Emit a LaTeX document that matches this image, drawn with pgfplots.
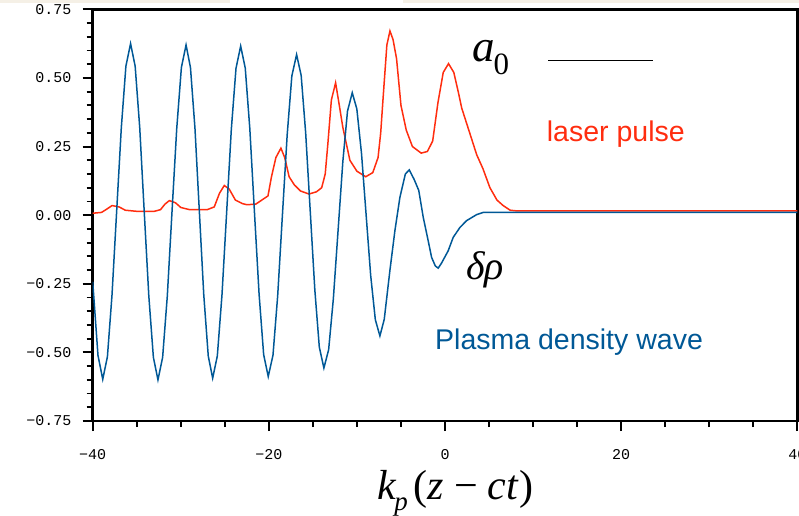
\documentclass[border=0pt]{standalone}
\usepackage{fontspec}
\setmainfont{Liberation Serif}
\newfontfamily\sansf{Liberation Sans}
\newfontfamily\monof{Liberation Mono}
\usepackage{pgfplots}
\pgfplotsset{compat=1.18}
\definecolor{laserred}{RGB}{255,45,15}
\definecolor{plasmablue}{RGB}{0,88,150}
\definecolor{beige}{RGB}{245,240,230}
\begin{document}
\begin{tikzpicture}[x=1pt,y=1pt]
\path[use as bounding box] (0,0) rectangle (799,515);
\fill[beige] (0,511.5) rectangle (230,515);
\fill[beige] (403,511.5) rectangle (799,515);
\begin{axis}[
  at={(92.7pt,94pt)}, anchor=south west,
  scale only axis, width=704.6pt, height=411.7pt,
  xmin=-40, xmax=40, ymin=-0.75, ymax=0.75,
  xtick={-40,-20,0,20,40},
  xticklabels={−40,−20,0,20,40},
  ytick={-0.75,-0.5,-0.25,0,0.25,0.5,0.75},
  yticklabels={−0.75,−0.50,−0.25,0.00,0.25,0.50,0.75},
  minor x tick num=3, minor y tick num=4,
  tick pos=left, tick align=outside,
  major tick length=10pt, minor tick length=6pt,
  axis line style={black, line width=2.5pt},
  major tick style={black, line width=2pt},
  minor tick style={black, line width=1.8pt},
  yticklabel style={font=\monof\fontsize{15}{15}\selectfont, inner sep=0pt, anchor=east, xshift=-11pt},
  xticklabel style={font=\monof\fontsize{15}{15}\selectfont, inner sep=0pt, anchor=north, yshift=-18pt},
]
\addplot[laserred, line width=1.5pt] coordinates {
(-40,0.007)(-39,0.010)(-38.5,0.020)(-37.8,0.035)(-37,0.030)(-36.3,0.018)(-35,0.014)(-33,0.014)(-32.3,0.020)(-31.8,0.040)(-31.3,0.053)(-30.6,0.045)(-30,0.028)(-29,0.020)(-27,0.020)(-26.2,0.030)(-25.6,0.080)(-25.06,0.108)(-24.5,0.095)(-23.8,0.055)(-23,0.042)(-22.5,0.038)(-21.5,0.040)(-20.8,0.055)(-20.1,0.070)(-19.7,0.140)(-19.2,0.210)(-18.63,0.244)(-18.2,0.210)(-17.7,0.140)(-17.1,0.110)(-16.4,0.088)(-15.45,0.077)(-14.6,0.085)(-14.0,0.100)(-13.6,0.150)(-13.3,0.260)(-12.9,0.420)(-12.42,0.482)(-12.0,0.400)(-11.6,0.320)(-11.2,0.260)(-10.8,0.200)(-10.0,0.160)(-9.0,0.140)(-8.2,0.155)(-7.6,0.210)(-7.3,0.300)(-7.0,0.440)(-6.6,0.620)(-6.25,0.671)(-5.9,0.640)(-5.5,0.570)(-5.0,0.400)(-4.4,0.310)(-3.7,0.250)(-2.7,0.226)(-2.0,0.232)(-1.4,0.270)(-0.8,0.410)(-0.2,0.520)(0.4,0.552)(1.0,0.520)(1.5,0.450)(1.9,0.390)(2.8,0.300)(3.6,0.220)(4.3,0.170)(5.1,0.100)(5.9,0.055)(6.6,0.035)(7.4,0.018)(8,0.016)(40,0.016)
};
\addplot[plasmablue, line width=1.5pt] coordinates {
(-40,-0.242)(-39.4,-0.511)(-38.86,-0.598)(-38.33,-0.516)(-37.81,-0.292)(-37.28,0.014)(-36.75,0.319)(-36.23,0.543)(-35.7,0.625)(-35.18,0.543)(-34.66,0.319)(-34.15,0.013)(-33.63,-0.294)(-33.11,-0.518)(-32.59,-0.600)(-32.06,-0.518)(-31.53,-0.295)(-31.0,0.010)(-30.46,0.315)(-29.93,0.538)(-29.4,0.620)(-28.9,0.538)(-28.39,0.317)(-27.89,0.013)(-27.39,-0.290)(-26.88,-0.513)(-26.38,-0.594)(-25.85,-0.513)(-25.32,-0.290)(-24.79,0.011)(-24.26,0.313)(-23.73,0.535)(-23.2,0.616)(-22.68,0.536)(-22.16,0.315)(-21.64,0.014)(-21.11,-0.287)(-20.59,-0.508)(-20.07,-0.588)(-19.53,-0.510)(-19.0,-0.295)(-18.46,0.000)(-17.92,0.292)(-17.39,0.507)(-16.85,0.585)(-16.33,0.509)(-15.82,0.300)(-15.3,0.014)(-14.78,-0.272)(-14.27,-0.481)(-13.75,-0.557)(-13.21,-0.490)(-12.68,-0.306)(-12.14,-0.056)(-11.6,0.195)(-11.07,0.379)(-10.53,0.446)(-10.01,0.387)(-9.48,0.225)(-8.96,0.003)(-8.44,-0.219)(-7.91,-0.381)(-7.39,-0.440)(-6.9,-0.380)(-6.25,-0.200)(-5.69,-0.057)(-5.12,0.065)(-4.5,0.150)(-4.06,0.165)(-3.5,0.130)(-2.98,0.090)(-2.47,-0.008)(-1.91,-0.093)(-1.52,-0.154)(-1.1,-0.185)(-0.77,-0.193)(-0.4,-0.175)(0.36,-0.130)(0.93,-0.081)(1.69,-0.045)(2.45,-0.020)(3.59,0.002)(4.34,0.010)(40,0.010)
};
\end{axis}
% annotations (image px -> tikz: y = 515 - py)
\node[anchor=base west, inner sep=0pt, text=laserred, font=\sansf\fontsize{28.5}{30}\selectfont] at (546.7,373.3) {laser pulse};
\node[anchor=base west, inner sep=0pt, text=plasmablue, font=\sansf\fontsize{28.5}{30}\selectfont] at (435,165.7) {Plasma density wave};
\node[anchor=base west, inner sep=0pt, font=\fontsize{45}{45}\selectfont] at (472,453.3) {\textit{a}\hspace{-1pt}\raisebox{-13pt}{\fontsize{31}{31}\selectfont 0}};
\draw[black, line width=1pt] (548.3,454) -- (653.3,454);
\node[anchor=base west, inner sep=0pt, font=\fontsize{40}{40}\selectfont\itshape] at (466,235.7) {δρ};
\node[anchor=base west, inner sep=0pt, font=\fontsize{42}{42}\selectfont] at (377,15.7) {\textit{k}\hspace{-2pt}\raisebox{-11pt}{\fontsize{27}{27}\selectfont\itshape p}\hspace{6pt}(\textit{z}\hspace{10pt}−\hspace{10pt}\textit{ct})};
\end{tikzpicture}
\end{document}
